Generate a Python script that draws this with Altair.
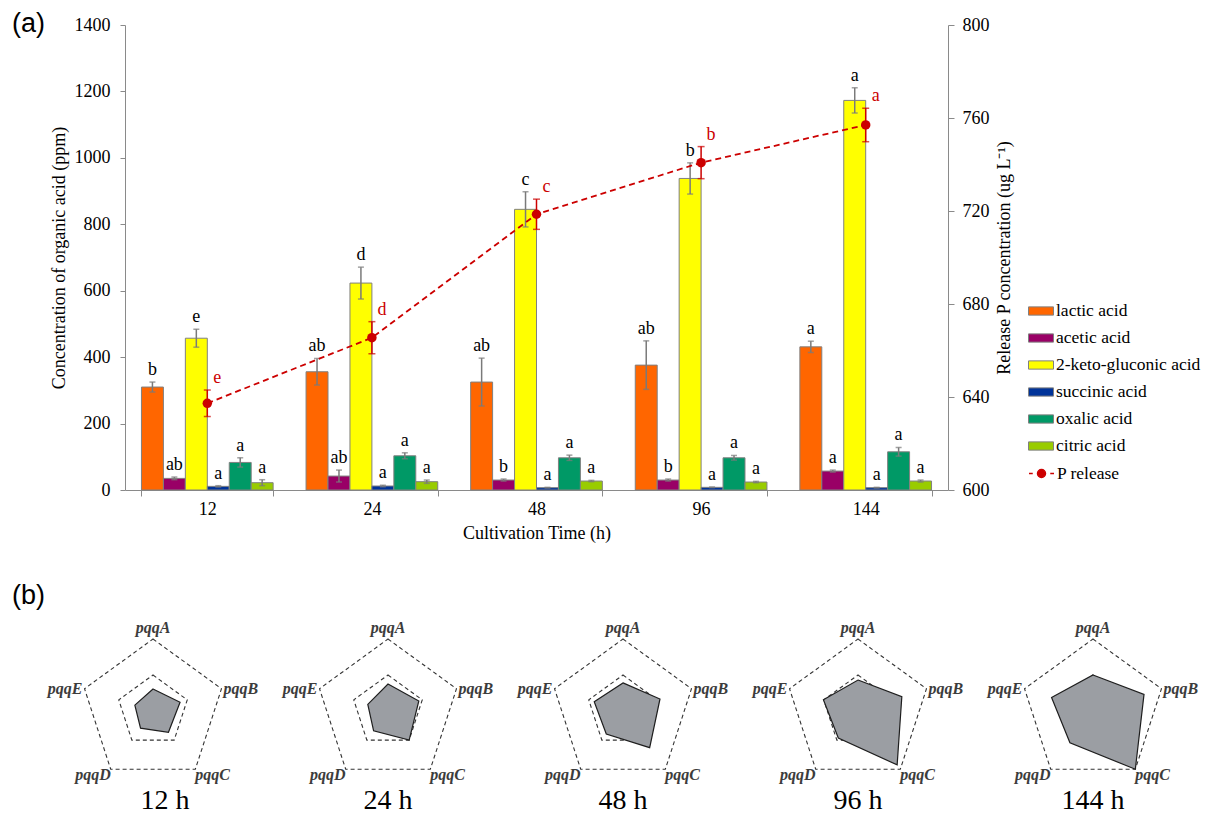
import altair as alt
import pandas as pd

# ---------------- data: panel (a) ----------------
times = ["12", "24", "48", "96", "144"]
acids = ["lactic acid", "acetic acid", "2-keto-gluconic acid",
         "succinic acid", "oxalic acid", "citric acid"]
acid_colors = ["#ff6600", "#990066", "#ffff00", "#003399", "#009966", "#99cc00"]

lactic = [310, 356, 325, 376, 431]
lactic_err = [15, 40, 72, 73, 17]
lactic_sig = ["b", "ab", "ab", "ab", "a"]
acetic = [35, 42, 30, 30, 57]
acetic_err = [4, 18, 3, 3, 3]
acetic_sig = ["ab", "ab", "b", "b", "a"]
keto = [457, 623, 845, 938, 1173]
keto_err = [27, 48, 53, 47, 38]
keto_sig = ["e", "d", "c", "b", "a"]
succinic = [11, 12, 7, 8, 7]
succinic_err = [2, 2, 1, 1, 1]
succinic_sig = ["a", "a", "a", "a", "a"]
oxalic = [83, 103, 97, 97, 115]
oxalic_err = [14, 9, 8, 7, 13]
oxalic_sig = ["a", "a", "a", "a", "a"]
citric = [22, 25, 27, 24, 27]
citric_err = [9, 5, 2, 2, 3]
citric_sig = ["a", "a", "a", "a", "a"]

p_release = [637.3, 665.5, 718.6, 740.8, 757.0]
p_err = [5.7, 6.9, 6.5, 6.9, 7.2]
p_sig = ["e", "d", "c", "b", "a"]

# ---------------- data: panel (b) ----------------
genes = ["pqqA", "pqqB", "pqqC", "pqqD", "pqqE"]
fold_12 = [0.61, 0.79, 0.73, 0.59, 0.53]
fold_24 = [0.75, 0.90, 1.00, 0.68, 0.59]
fold_48 = [0.78, 1.08, 1.26, 0.79, 0.84]
fold_96 = [0.86, 1.28, 1.85, 0.93, 1.01]
fold_144 = [1.00, 1.49, 2.00, 1.09, 1.21]
ref_levels = [1, 2]

SERIF = "Liberation Serif"
SANS = "Liberation Sans"
RED = "#cc0000"
GRAY = "#7a7a7a"

# ---------------- tables ----------------
rows = []
for acid, vals, errs, sigs in zip(
        acids,
        [lactic, acetic, keto, succinic, oxalic, citric],
        [lactic_err, acetic_err, keto_err, succinic_err, oxalic_err, citric_err],
        [lactic_sig, acetic_sig, keto_sig, succinic_sig, oxalic_sig, citric_sig]):
    for t, v, e, s in zip(times, vals, errs, sigs):
        rows.append({"time": t, "acid": acid, "value": v,
                     "lo": v - e, "hi": v + e, "sig": s})
df_bar = pd.DataFrame(rows)

df_p = pd.DataFrame({"time": times, "P": p_release,
                     "lo": [v - e for v, e in zip(p_release, p_err)],
                     "hi": [v + e for v, e in zip(p_release, p_err)],
                     "sig": p_sig, "series": ["P release"] * 5})

# ---------------- panel (a) ----------------
x_enc = alt.X("time:N", sort=times,
              scale=alt.Scale(paddingInner=0.2, paddingOuter=0.1),
              axis=alt.Axis(title="Cultivation Time (h)", labelAngle=0,
                            tickBand="extent", tickSize=6, labelPadding=4,
                            titlePadding=6))
xoff = alt.XOffset("acid:N", sort=acids,
                   scale=alt.Scale(domain=acids, paddingInner=0, paddingOuter=0))

yl_scale = alt.Scale(domain=[0, 1400], nice=False)
yl_axis = alt.Axis(title="Concentration of organic acid (ppm)",
                   values=list(range(0, 1401, 200)), format="d", tickSize=5,
                   labelPadding=10, titlePadding=6)
yr_scale = alt.Scale(domain=[600, 800], nice=False, zero=False)
yr_axis = alt.Axis(title="Release P concentration (ug L\u207b\u00b9)",
                   orient="right", values=list(range(600, 801, 40)), format="d",
                   tickSize=6, labelPadding=8, titlePadding=6, titleAngle=270,
                   titleBaseline="top")

LEG_X = 903
LEG_Y = 273
ROW = 27

base_l = alt.Chart(df_bar)
bars = base_l.mark_bar(stroke="#808080", strokeWidth=1).encode(
    x=x_enc, xOffset=xoff,
    y=alt.Y("value:Q", scale=yl_scale, axis=yl_axis),
    fill=alt.Fill("acid:N", sort=acids,
                  scale=alt.Scale(domain=acids, range=acid_colors),
                  legend=alt.Legend(title=None, orient="none",
                                    legendX=LEG_X, legendY=LEG_Y,
                                    symbolType="M-1,-0.33H1V0.33H-1Z",
                                    symbolSize=625, symbolStrokeColor="#808080",
                                    symbolStrokeWidth=1, symbolOpacity=1,
                                    labelFont=SERIF, labelFontSize=17.5,
                                    labelColor="black",
                                    rowPadding=5, labelOffset=2)))
err_l = base_l.mark_rule(color=GRAY, strokeWidth=1.5).encode(
    x=x_enc, xOffset=xoff,
    y=alt.Y("lo:Q", scale=yl_scale, axis=yl_axis), y2="hi:Q")
cap_lo = base_l.mark_tick(color=GRAY, thickness=1.5, size=6).encode(
    x=x_enc, xOffset=xoff, y=alt.Y("lo:Q", scale=yl_scale, axis=yl_axis))
cap_hi = base_l.mark_tick(color=GRAY, thickness=1.5, size=6).encode(
    x=x_enc, xOffset=xoff, y=alt.Y("hi:Q", scale=yl_scale, axis=yl_axis))
txt_l = base_l.mark_text(baseline="bottom", dy=-3, font=SERIF, fontSize=18,
                         color="black").encode(
    x=x_enc, xOffset=xoff, y=alt.Y("hi:Q", scale=yl_scale, axis=yl_axis),
    text="sig:N")
left = alt.layer(bars, err_l, cap_lo, cap_hi, txt_l)

base_r = alt.Chart(df_p)
p_line = base_r.mark_line(color=RED, strokeDash=[6, 4], strokeWidth=1.8).encode(
    x=x_enc, y=alt.Y("P:Q", scale=yr_scale, axis=yr_axis))
p_err_r = base_r.mark_rule(color=RED, strokeWidth=1.5).encode(
    x=x_enc, y=alt.Y("lo:Q", scale=yr_scale, axis=yr_axis), y2="hi:Q")
p_cap_lo = base_r.mark_tick(color=RED, thickness=1.5, size=7).encode(
    x=x_enc, y=alt.Y("lo:Q", scale=yr_scale, axis=yr_axis))
p_cap_hi = base_r.mark_tick(color=RED, thickness=1.5, size=7).encode(
    x=x_enc, y=alt.Y("hi:Q", scale=yr_scale, axis=yr_axis))
p_pts = base_r.mark_point(filled=True, size=90, opacity=1).encode(
    x=x_enc, y=alt.Y("P:Q", scale=yr_scale, axis=yr_axis),
    fill=alt.Fill("series:N",
                  scale=alt.Scale(domain=["P release"], range=[RED]),
                  legend=alt.Legend(title=None, orient="none",
                                    legendX=LEG_X, legendY=LEG_Y + 6 * ROW,
                                    symbolType="M-1,0H-0.7M0.7,0H1M-0.32,0A0.32,0.32,0,1,0,0.32,0A0.32,0.32,0,1,0,-0.32,0Z",
                                    symbolSize=625, symbolStrokeColor=RED,
                                    symbolStrokeWidth=1.5, symbolOpacity=1,
                                    labelFont=SERIF, labelFontSize=17.5,
                                    labelColor="black", labelOffset=2)))
p_txt = base_r.mark_text(baseline="bottom", dy=-3, dx=10, font=SERIF,
                         fontSize=18, color=RED).encode(
    x=x_enc, y=alt.Y("hi:Q", scale=yr_scale, axis=yr_axis), text="sig:N")
right = alt.layer(p_line, p_err_r, p_cap_lo, p_cap_hi, p_pts, p_txt)

top_layer = alt.layer(left, right).resolve_scale(
    y="independent", fill="independent"
).properties(width=823, height=465)

top = alt.hconcat(top_layer).properties(
    title=alt.TitleParams("(a)", anchor="start", frame="group", font=SANS,
                          fontSize=27, fontWeight="normal", color="black",
                          offset=-37, dy=-15, dx=-113))

# ---------------- panel (b) ----------------
UNIT = 36.0
PW = 216
PH = 169
FIRST_LEFT = 0.778  # first panel starts where the bar plot starts
ys = alt.Scale(domain=[-2.0, 2.0 + (PH / UNIT - 4.0)], nice=False, zero=False)

grid_rows = []
for lv in ref_levels:
    for k, g in enumerate(genes):
        grid_rows.append({"level": lv, "k": k, "gene": g})
df_grid = pd.DataFrame(grid_rows)
df_lab = pd.DataFrame({"gene": genes, "k": list(range(5)), "v": [2] * 5})

polar = dict(px="datum.v * sin(datum.k * 2 * PI / 5)",
             py="datum.v * cos(datum.k * 2 * PI / 5)")
Y = alt.Y("py:Q", scale=ys, axis=None)

lab_style = dict(font=SERIF, fontSize=16, fontStyle="italic",
                 fontWeight="bold", color="#3c3c3c")


def radar(t, vals, first=False):
    half = PW / 2 / UNIT
    lo = -FIRST_LEFT if first else -half
    width = int(round((half - lo) * UNIT))
    X = alt.X("px:Q", scale=alt.Scale(domain=[lo, half], nice=False, zero=False),
              axis=None)
    df_v = pd.DataFrame({"gene": genes, "k": list(range(5)), "v": vals})
    grid = alt.Chart(df_grid).transform_calculate(v="datum.level").transform_calculate(
        **polar).mark_line(interpolate="linear-closed", stroke="#333333",
                           strokeDash=[4, 3], strokeWidth=1.1).encode(
        x=X, y=Y, detail="level:N", order="k:Q")
    poly = alt.Chart(df_v).transform_calculate(**polar).mark_line(
        interpolate="linear-closed", fill="#9b9ea3", stroke="#1e1e1e",
        strokeWidth=1.2).encode(x=X, y=Y, order="k:Q")
    labs = alt.Chart(df_lab).transform_calculate(**polar)
    la = labs.transform_filter("datum.k == 0").mark_text(
        align="center", baseline="bottom", dy=-3, **lab_style).encode(
        x=X, y=Y, text="gene:N")
    lb = labs.transform_filter("datum.k == 1").mark_text(
        align="left", baseline="middle", dx=2, **lab_style).encode(
        x=X, y=Y, text="gene:N")
    lc = labs.transform_filter("datum.k == 2").mark_text(
        align="left", baseline="middle", dx=0, dy=6, **lab_style).encode(
        x=X, y=Y, text="gene:N")
    ld = labs.transform_filter("datum.k == 3").mark_text(
        align="right", baseline="middle", dx=0, dy=6, **lab_style).encode(
        x=X, y=Y, text="gene:N")
    le = labs.transform_filter("datum.k == 4").mark_text(
        align="right", baseline="middle", dx=-2, **lab_style).encode(
        x=X, y=Y, text="gene:N")
    return alt.layer(grid, poly, la, lb, lc, ld, le).properties(
        width=width, height=PH,
        title=alt.TitleParams(f"{t} h", orient="bottom", font=SERIF,
                              fontSize=28, fontWeight="normal",
                              color="black", offset=4,
                              dx=0 if not first else int(round(-FIRST_LEFT * UNIT))))


fold_sets = [fold_12, fold_24, fold_48, fold_96, fold_144]
panels = [radar(t, v, first=(i == 0)) for i, (t, v) in
          enumerate(zip(times, fold_sets))]
bottom = alt.hconcat(*panels, spacing=19).properties(
    title=alt.TitleParams("(b)", anchor="start", frame="group", font=SANS,
                          fontSize=27, fontWeight="normal", color="black",
                          offset=4, dx=-113))

chart = alt.vconcat(top, bottom, spacing=40).properties(
    padding={"left": 4, "top": 2, "right": 0, "bottom": 2},
    background="white"
).configure_view(stroke=None).configure_axis(
    labelFont=SERIF, titleFont=SERIF, labelFontSize=18, titleFontSize=18,
    titleFontWeight="normal", labelColor="black", titleColor="black",
    domainColor="#8a8a8a", tickColor="#8a8a8a", grid=False
).configure_legend(labelFont=SERIF, labelFontSize=17.5)

chart.save("out.html", embed_options={"renderer": "svg", "actions": False})
